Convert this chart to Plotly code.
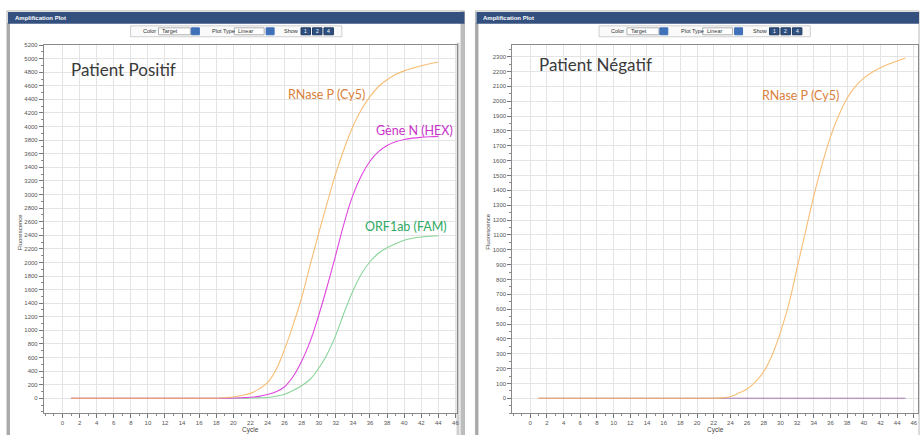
import plotly.graph_objects as go

# ---------------- data ----------------
cycles_pos = list(range(1, 45))
rnase_pos = [0, 0, 0, 0, 0, 0, 0, 0, 0, 0, 0, 0, 0, 0, 0, 0, 0, 0,
             8, 20, 42, 72, 135, 230, 420, 720, 1080, 1480, 1965, 2430, 2880, 3310,
             3680, 4000, 4250, 4440, 4590, 4690, 4765, 4820, 4860, 4895, 4925, 4950]
hex_pos = [0, 0, 0, 0, 0, 0, 0, 0, 0, 0, 0, 0, 0, 0, 0, 0, 0, 0, 0,
           3, 8, 15, 28, 55, 95, 170, 320, 546, 838, 1222, 1653, 2115, 2590,
           2990, 3280, 3490, 3630, 3720, 3775, 3810, 3830, 3842, 3850, 3855]
fam_pos = [0, 0, 0, 0, 0, 0, 0, 0, 0, 0, 0, 0, 0, 0, 0, 0, 0, 0, 0, 0, 0,
           3, 6, 12, 30, 60, 115, 185, 280, 442, 653, 930, 1270, 1580, 1830,
           2010, 2135, 2215, 2275, 2325, 2355, 2375, 2385, 2393]

cycles_neg = list(range(1, 46))
rnase_neg = [0, 0, 0, 0, 0, 0, 0, 0, 0, 0, 0, 0, 0, 0, 0, 0, 0, 0, 0, 0, 0, 0,
             3, 12, 35, 62, 110, 180, 290, 444, 632, 878, 1120, 1361, 1574, 1760,
             1905, 2020, 2100, 2155, 2195, 2225, 2250, 2270, 2290]
hex_neg = [0, 0, 0, 0, 0, 0, 0, 0, 0, 0, 0, 0, 0, 0, 0, 0, 0, 0, 0, 0, 0, 0, 0,
           0, 0, 0, 0, 0, 0, 0, 0, 0, 0, 0, 0, 0, 0, 0, 0, 0, 0, 0, 0, 0, 0]
fam_neg = [0, 0, 0, 0, 0, 0, 0, 0, 0, 0, 0, 0, 0, 0, 0, 0, 0, 0, 0, 0, 0, 0, 0,
           0, 0, 0, 0, 0, 0, 0, 0, 0, 0, 0, 0, 0, 0, 0, 0, 0, 0, 0, 0, 0, 0]

x_ticks = list(range(0, 47, 2))
y_ticks_pos = list(range(0, 5201, 200))
y_ticks_neg = list(range(0, 2301, 100))

titles = ["Patient Positif", "Patient Négatif"]
labels_pos = ["RNase P (Cy5)", "Gène N (HEX)", "ORF1ab (FAM)"]
labels_neg = ["RNase P (Cy5)"]

# ---------------- styling ----------------
W, H = 922, 435
C_ORANGE = "#f7b665"
C_MAGENTA = "#e045e0"
C_GREEN = "#8ad49a"
T_ORANGE = "#d9803c"
T_MAGENTA = "#c832c8"
T_GREEN = "#2fa862"
FONT = "Lato"


def px(x):
    return x / W


def py(y):
    return 1 - y / H


fig = go.Figure()

def add_curve(x, y, color, xa, ya, op=1.0):
    fig.add_trace(go.Scatter(x=x, y=y, mode="lines", xaxis=xa, yaxis=ya,
                             line=dict(color=color, width=1.1, shape="spline", smoothing=1.0),
                             opacity=op, showlegend=False, hoverinfo="skip"))

add_curve(cycles_pos, fam_pos, C_GREEN, "x", "y")
add_curve(cycles_pos, hex_pos, C_MAGENTA, "x", "y")
add_curve(cycles_pos, rnase_pos, C_ORANGE, "x", "y", 0.9)
add_curve(cycles_neg, fam_neg, C_GREEN, "x2", "y2")
add_curve(cycles_neg, hex_neg, C_MAGENTA, "x2", "y2", 0.6)
add_curve(cycles_neg, rnase_neg, C_ORANGE, "x2", "y2", 0.9)

axis_common = dict(showgrid=True, gridcolor="#e4e4e4", gridwidth=1, zeroline=False,
                   showline=True, linecolor="#8a8a8a", linewidth=1, mirror=True,
                   ticks="outside", ticklen=4, tickcolor="#777",
                   tickfont=dict(size=6, color="#555", family="Liberation Sans"))

fig.update_layout(
    width=W, height=H, margin=dict(l=0, r=0, t=0, b=0),
    paper_bgcolor="white", plot_bgcolor="white",
    xaxis=dict(axis_common, domain=[px(44), px(458)], range=[-2.18, 46.13],
               tickvals=x_ticks, anchor="y",
               minor=dict(dtick=1, ticks="outside", ticklen=2, tickcolor="#888", showgrid=False)),
    yaxis=dict(axis_common, domain=[py(413), py(42)], range=[-219, 5205],
               tickvals=y_ticks_pos, anchor="x",
               minor=dict(dtick=100, ticks="outside", ticklen=2, tickcolor="#888", showgrid=False)),
    xaxis2=dict(axis_common, domain=[px(514), px(921)], range=[-2.15, 46.5],
                tickvals=x_ticks, anchor="y2",
                minor=dict(dtick=1, ticks="outside", ticklen=2, tickcolor="#888", showgrid=False)),
    yaxis2=dict(axis_common, domain=[py(413), py(42)], range=[-100, 2380],
                tickvals=y_ticks_neg, anchor="x2",
                minor=dict(dtick=50, ticks="outside", ticklen=2, tickcolor="#888", showgrid=False)),
)

shapes = []
annotations = []

def rect(x0, y0, x1, y1, fill=None, line=None, lw=1, layer="above"):
    shapes.append(dict(type="rect", xref="paper", yref="paper",
                       x0=px(x0), x1=px(x1), y0=py(y1), y1=py(y0),
                       fillcolor=fill if fill else "rgba(0,0,0,0)",
                       line=dict(color=line if line else "rgba(0,0,0,0)", width=lw),
                       layer=layer))

def text(x, y, s, size, color, anchor="left", family=FONT, angle=0, bold=False):
    annotations.append(dict(xref="paper", yref="paper", x=px(x), y=py(y),
                            text=("<b>%s</b>" % s) if bold else s, showarrow=False,
                            xanchor=anchor, yanchor="middle", textangle=angle,
                            font=dict(size=size, color=color, family=family)))

for ox, right in [(0, 466), (470, 922)]:
    # panel outer frame
    rect(ox + 7, 8, right, 440, line="#b8b8b8", lw=1, layer="below")
    rect(ox + 7, 20, ox + 10, 440, fill="#a9a9a9", layer="below")
    # header bar
    rect(ox + 8, 9, right, 21, fill="#34507e", layer="above")
    text(ox + 13, 15, "Amplification Plot", 6, "white", family="Liberation Sans", bold=True)
    # toolbar
    tb = ox + 131
    rect(tb, 23, tb + 212, 34, fill="#fafafa", line="#cfcfcf", lw=1)
    text(tb + 10, 28.5, "Color", 5.5, "#333", family="Liberation Sans")
    rect(tb + 28, 25, tb + 60, 32, fill="white", line="#b0b0b0", lw=1)
    text(tb + 30, 28.5, "Target", 5.5, "#333", family="Liberation Sans")
    rect(tb + 61, 25, tb + 69, 32, fill="#3f70b8", line="#3f70b8", lw=1)
    text(tb + 80, 28.5, "Plot Type", 5.5, "#333", family="Liberation Sans")
    rect(tb + 104, 25, tb + 134, 32, fill="white", line="#b0b0b0", lw=1)
    text(tb + 106, 28.5, "Linear", 5.5, "#333", family="Liberation Sans")
    rect(tb + 136, 25, tb + 144, 32, fill="#3f70b8", line="#3f70b8", lw=1)
    text(tb + 152, 28.5, "Show", 5.5, "#333", family="Liberation Sans")
    for i, lab in enumerate(["1", "2", "4"]):
        bx = tb + 171 + i * 11.5
        rect(bx, 25, bx + 9.5, 32, fill="#2f4f7f", line="#1f3a60", lw=1)
        text(bx + 4.75, 28.5, lab, 5, "white", anchor="center", family="Liberation Sans")

# right edge double border of left panel
rect(458, 40, 461, 440, fill="#d0d0d0", layer="below")
rect(462, 8, 466, 440, fill="#bdbdbd", layer="below")

# axis titles
text(20, 230, "Fluorescence", 6, "#444", anchor="center", family="Liberation Sans", angle=-90)
text(490, 230, "Fluorescence", 6, "#444", anchor="center", family="Liberation Sans", angle=-90)
text(251, 430, "Cycle", 6.5, "#444", anchor="center", family="Liberation Sans")
text(718, 430, "Cycle", 6.5, "#444", anchor="center", family="Liberation Sans")

# titles & series labels
text(69, 67, titles[0], 17, "#3a3a3a")
text(539, 62, titles[1], 17, "#3a3a3a")
text(287, 92, labels_pos[0], 12.5, T_ORANGE)
text(375, 128, labels_pos[1], 12.5, T_MAGENTA)
text(364, 225, labels_pos[2], 12.5, T_GREEN)
text(762, 93, labels_neg[0], 12.5, T_ORANGE)

fig.update_layout(shapes=shapes, annotations=annotations)
fig.write_html("out.html",
               config={"displayModeBar": False, "staticPlot": True},
               post_script="document.body.style.margin='0';document.body.style.overflow='hidden';")
